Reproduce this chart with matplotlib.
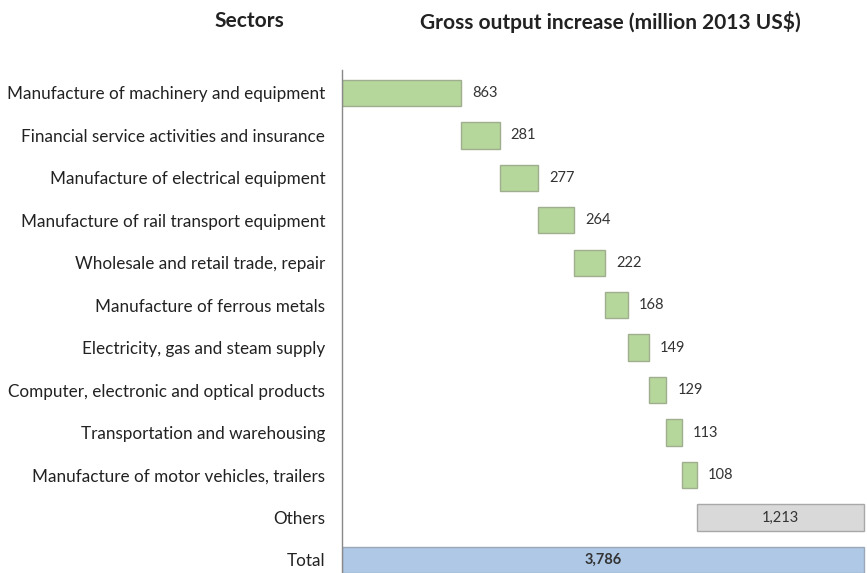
import matplotlib.pyplot as plt
import numpy as np

plt.rcParams['font.family'] = ['Lato', 'DejaVu Sans']

sectors = [
    "Manufacture of machinery and equipment",
    "Financial service activities and insurance",
    "Manufacture of electrical equipment",
    "Manufacture of rail transport equipment",
    "Wholesale and retail trade, repair",
    "Manufacture of ferrous metals",
    "Electricity, gas and steam supply",
    "Computer, electronic and optical products",
    "Transportation and warehousing",
    "Manufacture of motor vehicles, trailers",
    "Others",
    "Total",
]
increase = [863, 281, 277, 264, 222, 168, 149, 129, 113, 108, 1213]
total = 3786

fig = plt.figure(figsize=(8.67, 5.73), dpi=100)
ax = fig.add_axes([0.3945, 0.0, 0.6055, 0.8778])

starts = np.concatenate([[0], np.cumsum(increase)[:-1]])
y = np.arange(len(sectors))
green, grey, blue = '#b6d79b', '#d9d9d9', '#aec8e5'

for i, (s, v) in enumerate(zip(starts, increase)):
    if sectors[i] == "Others":
        ax.barh(i, v, left=s, height=0.62, color=grey, edgecolor='#a8a8a8', linewidth=1)
        ax.text(s + v / 2, i, f"{v:,}", ha='center', va='center', fontsize=10.5, color='#333333')
    else:
        ax.barh(i, v, left=s, height=0.62, color=green, edgecolor='#9fae8e', linewidth=1)
        ax.text(s + v + 80, i, f"{v:,}", ha='left', va='center', fontsize=10.5, color='#333333')

ax.barh(len(sectors) - 1, total, left=0, height=0.62, color=blue, edgecolor='#9aa8b8', linewidth=1)
ax.text(total / 2, len(sectors) - 1, f"{total:,}", ha='center', va='center',
        fontsize=10.5, fontweight='bold', color='#333333')

ax.set_xlim(0, 3807)
ax.set_ylim(11.31, -0.54)
ax.set_yticks(y)
ax.set_yticklabels(sectors, fontsize=12.3, color='#222222')
ax.tick_params(axis='y', length=0, pad=12)
ax.set_xticks([])
for side in ['top', 'right', 'bottom']:
    ax.spines[side].set_visible(False)
ax.spines['left'].set_color('#888888')
ax.spines['left'].set_linewidth(1)

fig.text(249 / 867, 1 - 21 / 573, "Sectors", ha='center', va='center',
         fontsize=15, fontweight='bold', color='#222222')
fig.text(610 / 867, 1 - 22 / 573, "Gross output increase (million 2013 US$)", ha='center',
         va='center', fontsize=15, fontweight='bold', color='#222222')

fig.savefig('out.png', dpi=100)
